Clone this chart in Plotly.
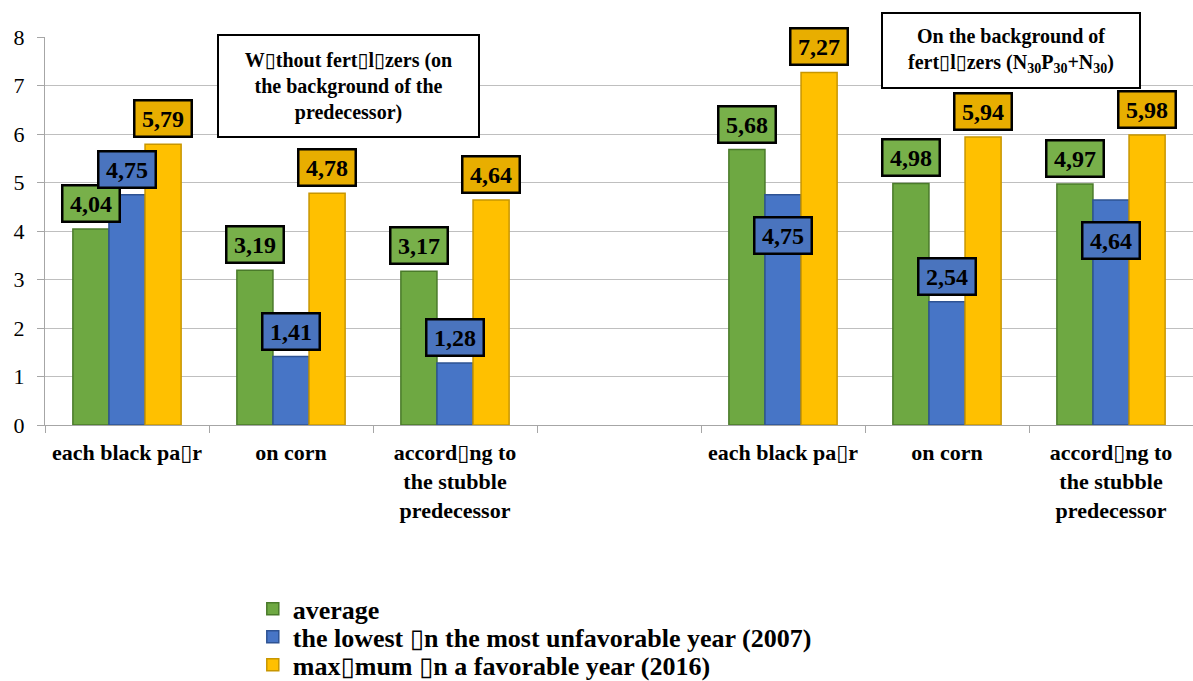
import plotly.graph_objects as go

BOX = "\u25af"

categories = [
    f"each black pa{BOX}r",
    "on corn",
    f"accord{BOX}ng to<br>the stubble<br>predecessor",
    "",
    f"each black pa{BOX}r",
    "on corn",
    f"accord{BOX}ng to<br>the stubble<br>predecessor",
]
positions = list(range(len(categories)))

average = [4.04, 3.19, 3.17, None, 5.68, 4.98, 4.97]
lowest = [4.75, 1.41, 1.28, None, 4.75, 2.54, 4.64]
maximum = [5.79, 4.78, 4.64, None, 7.27, 5.94, 5.98]
lowest_label_inside = [False, False, False, False, True, False, True]

series_names = [
    "average",
    f"the lowest {BOX}n the most unfavorable year (2007)",
    f"max{BOX}mum {BOX}n a favorable year (2016)",
]
series_values = [average, lowest, maximum]
fill_colors = ["#6EA842", "#4775C6", "#FFC000"]
edge_colors = ["#4A7A2A", "#2E5393", "#C89600"]
label_bg = ["#78B04A", "#4A74BE", "#E8AE00"]

SERIF = "Times New Roman, Liberation Serif, Tinos, DejaVu Serif, serif"
BARGAP = 0.34
bar_w = (1 - BARGAP) / 3
offsets = [-bar_w, 0, bar_w]
legend_ids = ["legend", "legend2", "legend3"]
legend_y = [-0.474, -0.546, -0.618]

fig = go.Figure()
for name, vals, fc, ec, lid in zip(series_names, series_values, fill_colors, edge_colors, legend_ids):
    fig.add_trace(go.Bar(
        x=positions, y=vals, name=f"<b>{name}</b>", legend=lid,
        marker=dict(color=fc, line=dict(color=ec, width=1.5)),
        hoverinfo="skip",
    ))

annotations = []
for si, vals in enumerate(series_values):
    for ci, v in enumerate(vals):
        if v is None:
            continue
        inside = si == 1 and lowest_label_inside[ci]
        annotations.append(dict(
            x=positions[ci] + offsets[si], y=v, xref="x", yref="y",
            text=f"<b>{v:.2f}</b>".replace(".", ","),
            showarrow=False,
            font=dict(family=SERIF, size=24, color="black"),
            bgcolor=label_bg[si], bordercolor="black", borderwidth=2.5, borderpad=4,
            width=47,
            yanchor="middle" if inside else "bottom",
            yshift=-41 if inside else 6,
        ))

annotations.append(dict(
    x=0.2644, y=0.874, xref="paper", yref="paper",
    text=f"<b>W{BOX}thout fert{BOX}l{BOX}zers (on<br>the background of the<br>predecessor)</b>",
    showarrow=False, font=dict(family=SERIF, size=20, color="black"),
    bgcolor="white", bordercolor="black", borderwidth=2, borderpad=4,
    width=251, height=92, xanchor="center", yanchor="middle",
))
annotations.append(dict(
    x=0.8415, y=0.965, xref="paper", yref="paper",
    text=f"<b>On the background of<br>fert{BOX}l{BOX}zers (N<sub>30</sub>P<sub>30</sub>+N<sub>30</sub>)</b>",
    showarrow=False, font=dict(family=SERIF, size=20, color="black"),
    bgcolor="white", bordercolor="black", borderwidth=2, borderpad=4,
    width=248, height=65, xanchor="center", yanchor="middle",
))

legend_style = dict(
    x=0.181, xanchor="left", yanchor="middle",
    font=dict(family=SERIF, size=26, color="black"),
    itemwidth=30, bgcolor="rgba(0,0,0,0)",
)

fig.update_layout(
    width=1193, height=681,
    margin=dict(l=45, r=0, t=37, b=256, autoexpand=False),
    plot_bgcolor="white", paper_bgcolor="white",
    barmode="group", bargap=BARGAP, bargroupgap=0,
    font=dict(family=SERIF, color="black"),
    annotations=annotations,
    showlegend=True,
    legend=dict(y=legend_y[0], **legend_style),
    legend2=dict(y=legend_y[1], **legend_style),
    legend3=dict(y=legend_y[2], **legend_style),
    xaxis=dict(
        range=[-0.5, 6.5], automargin=False,
        tickmode="array", tickvals=positions,
        ticktext=[f"<b>{c}</b>" if c else "" for c in categories],
        tickfont=dict(family=SERIF, size=22, color="black"),
        ticks="", showgrid=False, ticklabelstandoff=8,
        showline=True, linecolor="#A6A6A6", linewidth=1,
        minor=dict(tickmode="array", tickvals=[p - 0.5 for p in positions] + [6.5],
                   ticks="outside", ticklen=7, tickcolor="#A6A6A6", showgrid=False),
        zeroline=False,
    ),
    yaxis=dict(
        range=[0, 8], dtick=1, tick0=0, automargin=False,
        tickfont=dict(family=SERIF, size=22, color="black"),
        showgrid=True, gridcolor="#BFBFBF", gridwidth=1,
        showline=True, linecolor="#A6A6A6", linewidth=1,
        ticks="outside", ticklen=7, tickcolor="#A6A6A6",
        zeroline=False, ticklabelstandoff=8,
    ),
)

fig.write_html("out.html", config={"displayModeBar": False},
               post_script="document.body.style.margin='0';")
